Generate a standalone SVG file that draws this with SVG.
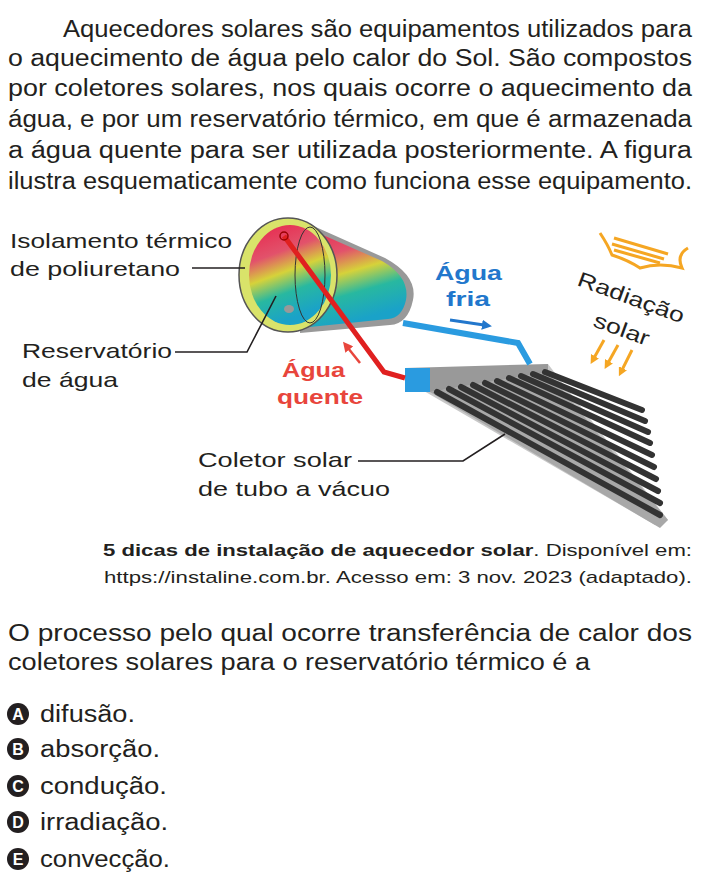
<svg xmlns="http://www.w3.org/2000/svg" width="701" height="887" viewBox="0 0 701 887">
<style>
text{font-family:"Liberation Sans",Arial,sans-serif}
.t{font-size:23px;fill:#231f20}
.l{font-size:21px;fill:#231f20}
.c{font-size:17px;fill:#231f20}
.ln{fill:none;stroke:#231f20;stroke-width:1.6}
.tube{stroke:#333;stroke-width:6;stroke-linecap:round}
.or{stroke:#f5a623;stroke-width:3;fill:none}
</style>
<defs>
<linearGradient id="g" x1="0" y1="0" x2="0.3" y2="1">
<stop offset="0" stop-color="#e8234a"/><stop offset="0.35" stop-color="#e2526b"/><stop offset="0.55" stop-color="#d6d23a"/><stop offset="0.75" stop-color="#28b8a0"/><stop offset="1" stop-color="#1aa2c8"/>
</linearGradient>
<marker id="ob" markerUnits="userSpaceOnUse" markerWidth="10" markerHeight="10" refX="2" refY="5" orient="auto"><path d="M0,0L10,5L0,10z" fill="#2277cc"/></marker>
<marker id="or" markerUnits="userSpaceOnUse" markerWidth="10" markerHeight="10" refX="2" refY="5" orient="auto"><path d="M0,0L10,5L0,10z" fill="#e8453c"/></marker>
<marker id="oo" markerUnits="userSpaceOnUse" markerWidth="9" markerHeight="9" refX="2" refY="4.5" orient="auto"><path d="M0,0L9,4.5L0,9z" fill="#f5a623"/></marker>
</defs>
<text class="t" x="63" y="37" textLength="629" lengthAdjust="spacingAndGlyphs">Aquecedores solares são equipamentos utilizados para</text>
<text class="t" x="8" y="66" textLength="684" lengthAdjust="spacingAndGlyphs">o aquecimento de água pelo calor do Sol. São compostos</text>
<text class="t" x="8" y="96" textLength="684" lengthAdjust="spacingAndGlyphs">por coletores solares, nos quais ocorre o aquecimento da</text>
<text class="t" x="8" y="127" textLength="684" lengthAdjust="spacingAndGlyphs">água, e por um reservatório térmico, em que é armazenada</text>
<text class="t" x="8" y="158" textLength="684" lengthAdjust="spacingAndGlyphs">a água quente para ser utilizada posteriormente. A figura</text>
<text class="t" x="8" y="189" textLength="684" lengthAdjust="spacingAndGlyphs">ilustra esquematicamente como funciona esse equipamento.</text>

<g id="collector">
<path d="M405,380 L548,364 L668,520 L655,525 Z" fill="#c8c8c8"/>
<path d="M430,392 L548,372 L668,520 L660,528 Z" fill="#a8a8a8"/>
<path d="M405,368 L548,364 L548,372 L430,392 Z" fill="#999"/>
<line class="tube" x1="437" y1="392" x2="660" y2="515"/>
<line class="tube" x1="449" y1="389" x2="660" y2="503"/>
<line class="tube" x1="461" y1="387" x2="658" y2="491"/>
<line class="tube" x1="473" y1="385" x2="656" y2="479"/>
<line class="tube" x1="485" y1="383" x2="654" y2="467"/>
<line class="tube" x1="497" y1="381" x2="652" y2="455"/>
<line class="tube" x1="509" y1="378" x2="650" y2="443"/>
<line class="tube" x1="521" y1="376" x2="648" y2="432"/>
<line class="tube" x1="533" y1="374" x2="645" y2="421"/>
<line class="tube" x1="545" y1="372" x2="642" y2="410"/>
<rect x="405" y="368" width="25" height="24" fill="#2a9be0"/>
</g>

<g id="tank">
<path d="M300,220 L385,258 Q418,276 413,300 Q408,324 390,325 L300,333 Z" fill="#999"/>
<path d="M298,224 L382,261 Q410,277 406,300 Q402,318 388,319 L300,328 Z" fill="url(#g)"/>
<ellipse cx="288" cy="275" rx="49" ry="57" fill="#d9e36a" stroke="#555" stroke-width="1.5"/>
<ellipse cx="290" cy="275" rx="41" ry="50" fill="url(#g)"/>
<ellipse cx="310" cy="275" rx="15" ry="48" fill="none" stroke="#333" stroke-width="1"/>
<ellipse cx="289" cy="309" rx="5" ry="4" fill="#999"/>
</g>
<g id="pipes">
<path d="M403,323 L518,343 L530,364" stroke="#2a9be0" stroke-width="6" fill="none"/>
<path d="M284,236 L384,372 L405,378" stroke="#e02020" stroke-width="5" fill="none"/>
<circle cx="284" cy="236" r="4" fill="none" stroke="#900" stroke-width="1.5"/>
</g>
<g id="sun">
<path d="M600,233 Q608,245 612,255 Q628,260 640,268 Q660,262 682,268 Q676,255 688,248" class="or"/>
<line class="or" x1="614" y1="238" x2="668" y2="254" stroke-width="2"/>
<line class="or" x1="612" y1="244" x2="664" y2="259" stroke-width="2"/>
<line class="or" x1="614" y1="250" x2="660" y2="263" stroke-width="2"/>
<line class="or" x1="604" y1="340" x2="594" y2="358" marker-end="url(#oo)"/>
<line class="or" x1="618" y1="345" x2="608" y2="363" marker-end="url(#oo)"/>
<line class="or" x1="632" y1="350" x2="622" y2="370" marker-end="url(#oo)"/>
</g>
<g id="labels">
<text class="l" x="10" y="248" textLength="222" lengthAdjust="spacingAndGlyphs">Isolamento térmico</text>
<text class="l" x="10" y="276" textLength="170" lengthAdjust="spacingAndGlyphs">de poliuretano</text>
<path class="ln" d="M192,268 H245"/>
<text class="l" x="22" y="358" textLength="150" lengthAdjust="spacingAndGlyphs">Reservatório</text>
<text class="l" x="22" y="387" textLength="96" lengthAdjust="spacingAndGlyphs">de água</text>
<path class="ln" d="M175,352 H247 L276,296"/>
<text class="l" x="198" y="467" textLength="154" lengthAdjust="spacingAndGlyphs">Coletor solar</text>
<text class="l" x="198" y="496" textLength="192" lengthAdjust="spacingAndGlyphs">de tubo a vácuo</text>
<path class="ln" d="M358,461 H463 L505,434"/>
<text x="435" y="280" textLength="67" lengthAdjust="spacingAndGlyphs" style="font-weight:bold;font-size:21px;fill:#2277cc">Água</text>
<text x="446" y="306" textLength="44" lengthAdjust="spacingAndGlyphs" style="font-weight:bold;font-size:21px;fill:#2277cc">fria</text>
<line x1="450" y1="320" x2="484" y2="325" stroke="#2277cc" stroke-width="3" marker-end="url(#ob)"/>
<text x="282" y="377" textLength="63" lengthAdjust="spacingAndGlyphs" style="font-weight:bold;font-size:21px;fill:#e8453c">Água</text>
<text x="277" y="404" textLength="86" lengthAdjust="spacingAndGlyphs" style="font-weight:bold;font-size:21px;fill:#e8453c">quente</text>
<line x1="360" y1="363" x2="348" y2="348" stroke="#e8453c" stroke-width="2.5" marker-end="url(#or)"/>
<text class="l" x="576" y="285" textLength="112" lengthAdjust="spacingAndGlyphs" transform="rotate(20 576 285)">Radiação</text>
<text class="l" x="592" y="326" textLength="58" lengthAdjust="spacingAndGlyphs" transform="rotate(20 592 326)">solar</text>
</g>

<text class="c" x="103" y="556" textLength="589" lengthAdjust="spacingAndGlyphs"><tspan font-weight="bold">5 dicas de instalação de aquecedor solar</tspan>. Disponível em:</text>
<text class="c" x="104" y="583" textLength="588" lengthAdjust="spacingAndGlyphs">https://instaline.com.br. Acesso em: 3 nov. 2023 (adaptado).</text>

<text class="t" x="8" y="641" textLength="684" lengthAdjust="spacingAndGlyphs">O processo pelo qual ocorre transferência de calor dos</text>
<text class="t" x="8" y="670" textLength="582" lengthAdjust="spacingAndGlyphs">coletores solares para o reservatório térmico é a</text>

<g style="font-weight:bold;font-size:16px" text-anchor="middle" fill="#fff">
<circle cx="18" cy="714" r="11" fill="#231f20"/><text x="18" y="720">A</text>
<circle cx="18" cy="749" r="11" fill="#231f20"/><text x="18" y="755">B</text>
<circle cx="18" cy="786" r="11" fill="#231f20"/><text x="18" y="792">C</text>
<circle cx="18" cy="822" r="11" fill="#231f20"/><text x="18" y="828">D</text>
<circle cx="18" cy="859" r="11" fill="#231f20"/><text x="18" y="865">E</text>
</g>
<text class="t" x="40" y="722" textLength="95" lengthAdjust="spacingAndGlyphs">difusão.</text>
<text class="t" x="40" y="757" textLength="120" lengthAdjust="spacingAndGlyphs">absorção.</text>
<text class="t" x="40" y="794" textLength="127" lengthAdjust="spacingAndGlyphs">condução.</text>
<text class="t" x="40" y="830" textLength="128" lengthAdjust="spacingAndGlyphs">irradiação.</text>
<text class="t" x="40" y="867" textLength="130" lengthAdjust="spacingAndGlyphs">convecção.</text>
</svg>
